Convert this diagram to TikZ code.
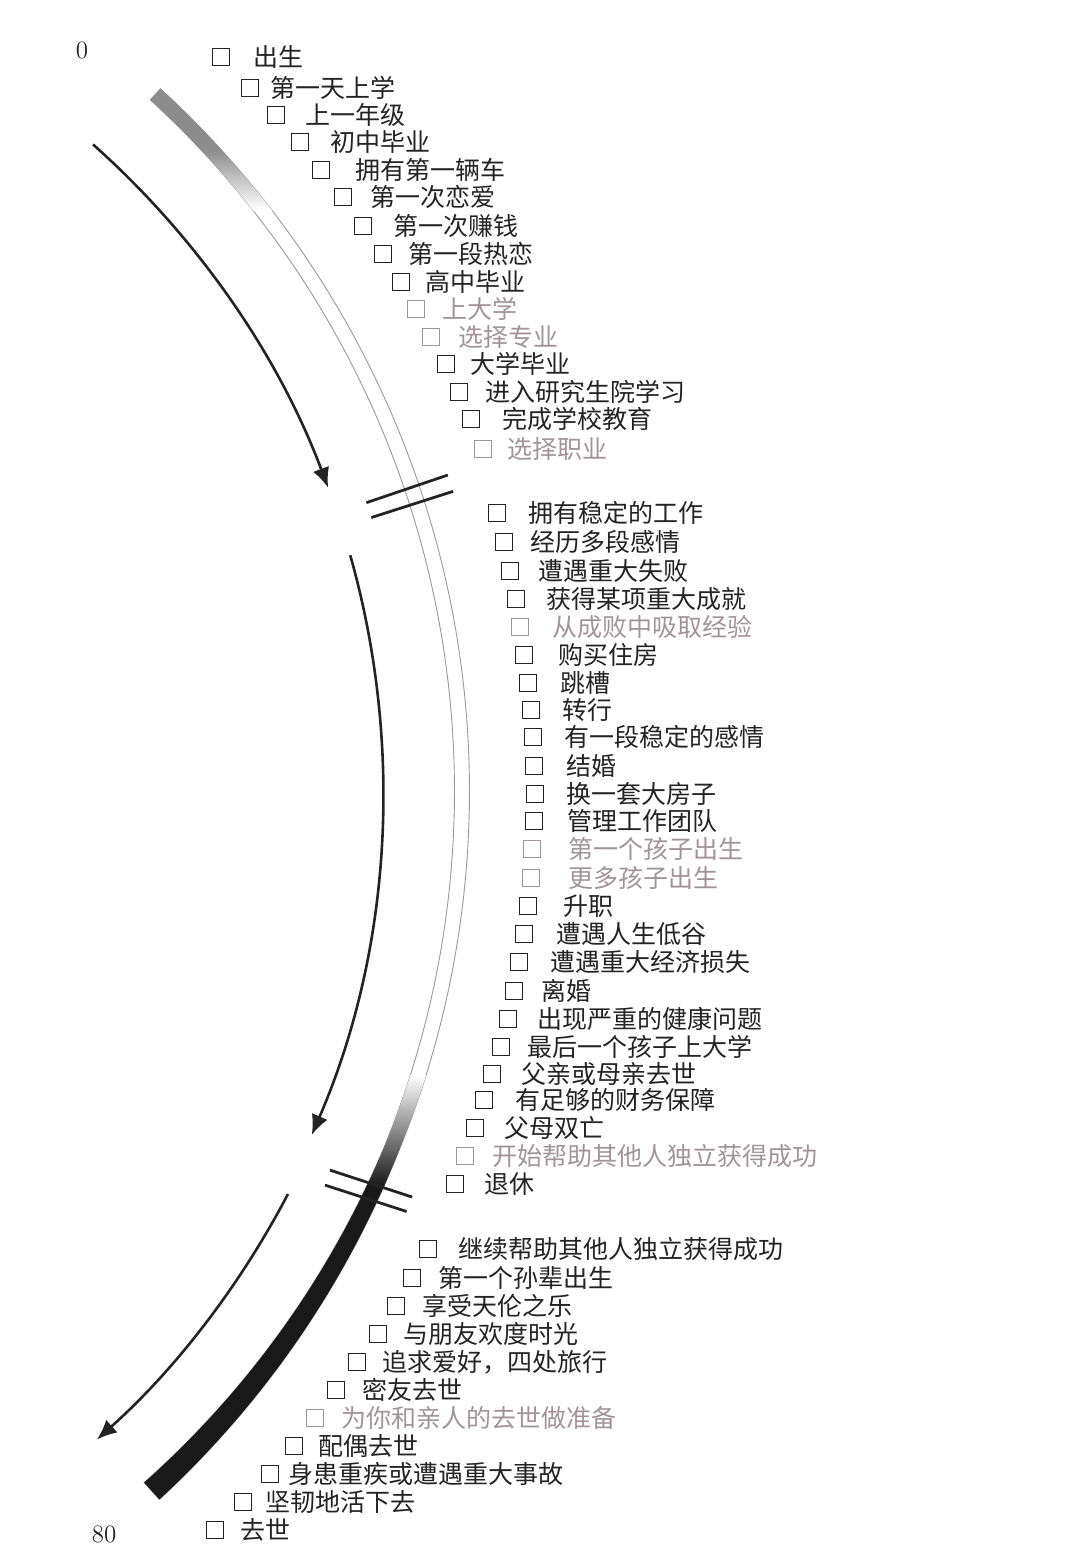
\documentclass[tikz,border=0pt]{standalone}
\usepackage{fontspec}
\newfontfamily\cjk{Noto Sans CJK SC}
\usetikzlibrary{arrows.meta}
\definecolor{inkgray}{RGB}{35,35,35}
\definecolor{fadedgray}{RGB}{160,148,153}
% the life band: an arc round (-483,791) that widens near its lower end
\newcommand\lifeband{plot[domain=-47.5:47.8,samples=150]
  ({-483+(952.5+max(0,\x-22)*0.15)*cos(\x)},{791+(952.5+max(0,\x-22)*0.15)*sin(\x)})
  -- plot[domain=47.8:-47.5,samples=150]
  ({-483+(937.5-max(0,\x-22)*0.15)*cos(\x)},{791+(937.5-max(0,\x-22)*0.15)*sin(\x)})
  -- cycle}

\begin{document}
\begin{tikzpicture}[
  x=0.5pt,y=-0.5pt,
  tick/.style={draw,minimum size=8.3pt,inner sep=0pt,line width=0.75pt},
  event/.style={anchor=west,inner sep=0pt,font=\cjk\fontsize{12.5pt}{15pt}\selectfont},
  age/.style={inner sep=0pt,font=\fontsize{12.5pt}{15pt}\selectfont,text=inkgray},
  flow/.style={-{Latex[length=10pt,width=8.5pt]},line width=1.3pt,draw=inkgray},
  cut/.style={line width=1.4pt,draw=inkgray}
]
  \useasboundingbox (0,0) rectangle (1066,1549);
  \coordinate (hub) at (-483,791);

  % band outline, then its shaded ends
  \draw[black!40,line width=0.45pt] \lifeband;
  \begin{scope}
    \clip \lifeband;
    \fill[black!45] (0,0) rectangle (700,150);
    \shade[top color=black!45,bottom color=white] (0,150) rectangle (700,210);
    \shade[top color=white,bottom color=black!90] (0,1075) rectangle (700,1185);
    \fill[black!90] (0,1185) rectangle (700,1549);
  \end{scope}

  % breaks in the band
  \draw[cut] ([shift={(hub)}]-18.75:897) -- ([shift={(hub)}]-18.75:983);
  \draw[cut] ([shift={(hub)}]-17.75:897) -- ([shift={(hub)}]-17.75:983);
  \draw[cut] ([shift={(hub)}]25.0:897) -- ([shift={(hub)}]24.4:983);
  \draw[cut] ([shift={(hub)}]26.0:899) -- ([shift={(hub)}]25.3:984);

  % direction of time
  \coordinate (youth) at ([shift={(hub)}]-48.3:866);
  \coordinate (midlife) at ([shift={(hub)}]-15.8:866);
  \coordinate (lateyears) at ([shift={(hub)}]27.6:870);
  \draw[flow] (youth) arc[start angle=-48.3,end angle=-20.5,radius=866];
  \draw[flow] (midlife) arc[start angle=-15.8,end angle=23.4,radius=866];
  \draw[flow] (lateyears) arc[start angle=27.6,end angle=48.2,radius=870];

  \node[age] (birth) at (82,50) {0};
  \node[age] (end) at (104,1534) {80};

  \foreach \bx/\tx/\y/\txt/\tone [count=\n] in {
    221/253/57/出生/inkgray,
    250/270/88/第一天上学/inkgray,
    276/305/115/上一年级/inkgray,
    300/330/142/初中毕业/inkgray,
    321/355/170/拥有第一辆车/inkgray,
    343/370/197/第一次恋爱/inkgray,
    363/393/226/第一次赚钱/inkgray,
    383/408/254/第一段热恋/inkgray,
    401/425/282/高中毕业/inkgray,
    416/442/309/上大学/fadedgray,
    431/458/337/选择专业/fadedgray,
    446/470/364/大学毕业/inkgray,
    459/485/392/进入研究生院学习/inkgray,
    471/502/419/完成学校教育/inkgray,
    483/507/449/选择职业/fadedgray,
    497/528/513/拥有稳定的工作/inkgray,
    504/530/542/经历多段感情/inkgray,
    510/538/571/遭遇重大失败/inkgray,
    516/546/599/获得某项重大成就/inkgray,
    520/552/627/从成败中吸取经验/fadedgray,
    524/558/655/购买住房/inkgray,
    528/560/683/跳槽/inkgray,
    531/562/710/转行/inkgray,
    533/564/737/有一段稳定的感情/inkgray,
    534/566/766/结婚/inkgray,
    535/566/794/换一套大房子/inkgray,
    534/567/821/管理工作团队/inkgray,
    532/568/849/第一个孩子出生/fadedgray,
    531/568/878/更多孩子出生/fadedgray,
    528/563/906/升职/inkgray,
    524/556/934/遭遇人生低谷/inkgray,
    519/550/962/遭遇重大经济损失/inkgray,
    514/541/991/离婚/inkgray,
    508/537/1019/出现严重的健康问题/inkgray,
    501/527/1047/最后一个孩子上大学/inkgray,
    492/521/1074/父亲或母亲去世/inkgray,
    484/515/1100/有足够的财务保障/inkgray,
    475/504/1128/父母双亡/inkgray,
    465/492/1156/开始帮助其他人独立获得成功/fadedgray,
    455/484/1184/退休/inkgray,
    428/458/1249/继续帮助其他人独立获得成功/inkgray,
    412/438/1278/第一个孙辈出生/inkgray,
    396/422/1306/享受天伦之乐/inkgray,
    378/403/1334/与朋友欢度时光/inkgray,
    357/382/1362/追求爱好，四处旅行/inkgray,
    336/362/1390/密友去世/inkgray,
    315/341/1418/为你和亲人的去世做准备/fadedgray,
    294/318/1446/配偶去世/inkgray,
    270/288/1474/身患重疾或遭遇重大事故/inkgray,
    243/265/1502/坚韧地活下去/inkgray,
    215/240/1530/去世/inkgray}{
    \node[tick,draw=\tone] (box\n) at (\bx,\y) {};
    \node[event,text=\tone] (event\n) at (\tx,\y) {\txt};
  }
\end{tikzpicture}
\end{document}
